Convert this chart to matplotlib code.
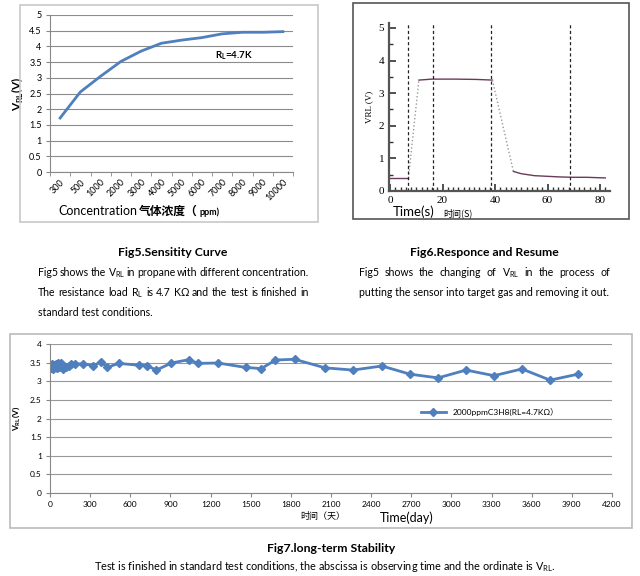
import numpy as np
import matplotlib
matplotlib.use("Agg")
import matplotlib.pyplot as plt
from matplotlib.patches import Rectangle

plt.rcParams['font.family'] = ['Lato', 'Noto Sans CJK SC', 'DejaVu Sans']
plt.rcParams['mathtext.fontset'] = 'custom'
plt.rcParams['mathtext.rm'] = 'Lato'

# Fig5 sensitivity curve
conc_labels = ['300', '500', '1000', '2000', '3000', '4000', '5000', '6000',
               '7000', '8000', '9000', '10000']
sens_v = [1.72, 2.55, 3.05, 3.52, 3.85, 4.1, 4.2, 4.28, 4.4, 4.45, 4.45, 4.47]

# Fig6 response / resume
resp_t = [0, 7, 11, 16, 25, 33, 39, 47, 50, 55, 60, 65, 70, 75, 82]
resp_v = [0.4, 0.4, 3.4, 3.43, 3.43, 3.42, 3.4, 0.6, 0.53, 0.47, 0.45, 0.43, 0.42, 0.42, 0.4]
resp_marks = [7, 16.5, 38.5, 68.5]

# Fig7 long-term stability
days = [0, 7, 14, 21, 28, 35, 42, 49, 56, 63, 70, 80, 95, 120, 140, 160, 190, 245,
        322, 384, 428, 512, 664, 726, 795, 908, 1038, 1107, 1255, 1464, 1579,
        1685, 1828, 2055, 2264, 2481, 2690, 2900, 3109, 3318, 3527, 3737, 3946]
stab_v = [3.4, 3.35, 3.45, 3.33, 3.43, 3.38, 3.47, 3.36, 3.45, 3.5, 3.38, 3.48, 3.33,
          3.38, 3.42, 3.47, 3.46, 3.47, 3.42, 3.52, 3.37, 3.48, 3.43, 3.42, 3.3,
          3.49, 3.58, 3.48, 3.49, 3.37, 3.34, 3.57, 3.59, 3.36, 3.3, 3.41, 3.19,
          3.09, 3.3, 3.15, 3.33, 3.03, 3.19]

W, H = 640, 576
fig = plt.figure(figsize=(6.4, 5.76), dpi=100)
renderer = fig.canvas.get_renderer()


def box(x0, y0, x1, y1):
    # pixel box -> figure fraction rect
    return [x0 / W, 1 - y1 / H, (x1 - x0) / W, (y1 - y0) / H]


def frame(x0, y0, x1, y1, color):
    r = Rectangle((x0 / W, 1 - y1 / H), (x1 - x0) / W, (y1 - y0) / H,
                  transform=fig.transFigure, fill=False, ec=color, lw=1.2)
    fig.patches.append(r)


def ftext(x, y, s, **kw):
    return fig.text(x / W, 1 - y / H, s, va='center', **kw)


def justify(x0, x1, y, line, size):
    # spread words so the line fills x0..x1 (pixels)
    words = line.split(' ')
    arts = [ftext(0, y, w, fontsize=size) for w in words]
    widths = [a.get_window_extent(renderer).width for a in arts]
    gap = (x1 - x0 - sum(widths)) / (len(words) - 1)
    x = x0
    for a, w in zip(arts, widths):
        a.set_x(x / W)
        x += w + gap


blue = '#4f7fbd'
body = 7.6

# ---------- Fig5 ----------
frame(20, 5, 318, 222, '#c8c8c8')
ax1 = fig.add_axes(box(50, 15, 293, 172))
xs = np.arange(len(conc_labels))
ax1.plot(xs, sens_v, color=blue, lw=2)
ax1.set_xlim(-0.5, len(conc_labels) - 0.5)
ax1.set_ylim(0, 5)
ax1.set_yticks(np.arange(0, 5.01, 0.5))
ax1.set_yticklabels(['0', '0.5', '1', '1.5', '2', '2.5', '3', '3.5', '4', '4.5', '5'])
ax1.set_xticks(xs)
ax1.set_xticklabels(conc_labels, rotation=45, ha='right', rotation_mode='anchor')
ax1.set_xticks(np.arange(-0.5, len(conc_labels)), minor=True)
ax1.tick_params(axis='x', which='major', length=0, labelsize=6.5, pad=4)
ax1.tick_params(axis='x', which='minor', length=3, color='#888888')
ax1.tick_params(axis='y', length=3, labelsize=6.5, color='#888888', pad=3)
ax1.grid(axis='y', color='#8c8c8c', lw=0.8)
ax1.set_axisbelow(True)
for s in ['top', 'right']:
    ax1.spines[s].set_visible(False)
for s in ['left', 'bottom']:
    ax1.spines[s].set_color('#888888')
ax1.set_ylabel('V$_{\\mathregular{RL}}$(V)', fontsize=8.5, fontweight='bold', labelpad=2)
ax1.text(8.6, 3.72, 'R$_{\\mathregular{L}}$=4.7K', fontsize=7, fontweight='bold', ha='center', va='center')
ftext(58, 211, 'Concentration', fontsize=9)
ftext(139, 211, '气体浓度（', fontsize=8.5, fontweight='bold')
ftext(200, 212, 'ppm)', fontsize=6.5, fontweight='bold')

# ---------- Fig6 ----------
frame(353, 3, 629, 219, '#555555')
ax2 = fig.add_axes(box(389, 23, 610, 191))
resp_t = np.array(resp_t)
resp_v = np.array(resp_v)
pc = '#6b3a5a'
ax2.plot(resp_t[0:2], resp_v[0:2], color=pc, lw=1)
ax2.plot(resp_t[2:7], resp_v[2:7], color=pc, lw=1)
ax2.plot(resp_t[7:], resp_v[7:], color=pc, lw=1)
ax2.plot(resp_t[1:3], resp_v[1:3], color='#999999', lw=1, ls=':')
ax2.plot(resp_t[6:8], resp_v[6:8], color='#999999', lw=1, ls=':')
for m in resp_marks:
    ax2.axvline(m, color='#222222', lw=0.9, ls=(0, (2.5, 2)))
ax2.set_xlim(-0.4, 83.8)
ax2.set_ylim(0, 5.15)
ax2.set_xticks([0, 20, 40, 60, 80])
ax2.set_xticks(np.arange(0, 84, 2), minor=True)
ax2.set_yticks([0, 1, 2, 3, 4, 5])
ax2.set_yticks(np.arange(0, 5.1, 0.5), minor=True)
for s in ['top', 'right']:
    ax2.spines[s].set_visible(False)
for s in ['left', 'bottom']:
    ax2.spines[s].set_color('#555555')
    ax2.spines[s].set_linewidth(1.6)
ax2.tick_params(which='major', direction='in', length=5, width=1.2, color='#333333',
                labelsize=8, labelfontfamily='Liberation Serif')
ax2.tick_params(which='minor', direction='in', length=3, width=1, color='#333333')
ax2.set_ylabel('VRL (V)', fontsize=6.5, family='Liberation Serif', labelpad=4)
ftext(393, 212, 'Time(s)', fontsize=9.5)
ftext(443, 213, '时间(S)', fontsize=6.5, family=['Noto Sans CJK SC'])

# ---------- captions ----------
ftext(173, 253, 'Fig5.Sensitity Curve', fontsize=8.8, fontweight='bold', ha='center')
justify(38, 309, 273, 'Fig5 shows the V$_{\\mathregular{RL}}$ in propane with different concentration.', body)
justify(38, 309, 293, 'The resistance load R$_{\\mathregular{L}}$ is 4.7 KΩ and the test is finished in', body)
ftext(38, 312, 'standard test conditions.', fontsize=body)
ftext(484, 253, 'Fig6.Responce and Resume', fontsize=8.8, fontweight='bold', ha='center')
justify(359, 610, 273, 'Fig5 shows the changing of V$_{\\mathregular{RL}}$ in the process of', body)
ftext(359, 293, 'putting the sensor into target gas and removing it out.', fontsize=body)

# ---------- Fig7 ----------
frame(10, 334, 632, 528, '#bbbbbb')
ax3 = fig.add_axes(box(50, 344, 612, 493))
ax3.plot(days, stab_v, color=blue, lw=2, marker='D', ms=4, label='2000ppmC3H8(RL=4.7KΩ）')
ax3.set_xlim(0, 4200)
ax3.set_ylim(0, 4)
ax3.set_xticks(np.arange(0, 4201, 300))
ax3.set_yticks(np.arange(0, 4.01, 0.5))
ax3.set_yticklabels(['0', '0.5', '1', '1.5', '2', '2.5', '3', '3.5', '4'])
ax3.tick_params(length=3, labelsize=6, color='#888888', pad=3)
ax3.grid(axis='y', color='#999999', lw=0.8)
ax3.set_axisbelow(True)
for s in ['top', 'right']:
    ax3.spines[s].set_visible(False)
for s in ['left', 'bottom']:
    ax3.spines[s].set_color('#888888')
ax3.set_ylabel('V$_{\\mathregular{RL}}$(V)', fontsize=6, fontweight='bold', labelpad=6)
ax3.legend(loc='center', bbox_to_anchor=((490 - 50) / 562, (493 - 412) / 149),
           frameon=False, fontsize=6, handlelength=3, borderpad=0)
ftext(300, 517, '时间（天）', fontsize=6.5, family=['Noto Sans CJK SC'])
ftext(380, 518, 'Time(day)', fontsize=9)

ftext(331, 549, 'Fig7.long-term Stability', fontsize=8.8, fontweight='bold', ha='center')
ftext(325, 566, 'Test is finished in standard test conditions, the abscissa is observing time and the ordinate is V$_{\\mathregular{RL}}$.',
      fontsize=7.8, ha='center')

fig.savefig('out.png', dpi=100, facecolor='white')
